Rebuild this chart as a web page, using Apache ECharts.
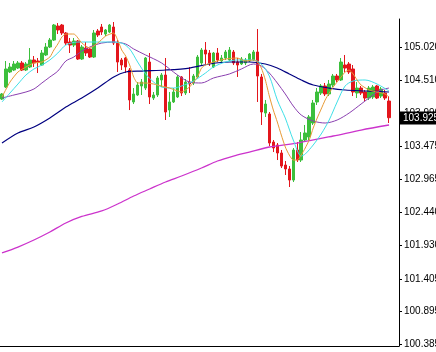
<!DOCTYPE html>
<html>
<head>
<meta charset="utf-8">
<script src="https://cdn.jsdelivr.net/npm/echarts@6/dist/echarts.min.js"></script>
<style>
  html, body { margin: 0; background: #fff; }
  #chart { width: 436px; height: 352px; }
</style>
</head>
<body>
<div id="chart"></div>
<script>
// bars: [open, close, low, high]
const candles = [
  [104.217,104.296,104.202,104.311],[104.405,104.687,104.389,104.812],[104.640,104.718,104.624,104.781],
  [104.671,104.765,104.655,104.812],[104.702,104.781,104.687,104.812],[104.781,104.671,104.655,104.812],
  [104.671,104.765,104.655,104.796],[104.718,104.828,104.702,105.015],[104.828,104.781,104.718,104.890],
  [104.812,104.796,104.624,104.859],[104.749,104.937,104.734,104.984],[104.906,105.031,104.890,105.093],
  [105.031,105.140,105.015,105.172],[105.140,105.375,105.125,105.391],[105.359,105.297,105.234,105.406],
  [105.375,105.250,105.219,105.391],[105.250,105.093,105.062,105.265],[105.109,105.062,104.937,105.172],
  [105.062,105.125,105.031,105.172],[105.125,104.843,104.828,105.140],[104.843,105.031,104.828,105.062],
  [105.015,104.937,104.890,105.109],[105.000,104.874,104.859,105.015],[104.874,105.250,104.859,105.297],
  [105.281,105.219,105.187,105.312],[105.344,105.265,105.219,105.391],[105.234,105.297,105.203,105.312],
  [105.265,105.375,105.250,105.391],[105.344,105.093,105.062,105.422],[105.093,104.796,104.640,105.140],
  [104.828,104.749,104.671,104.859],[104.859,104.718,104.624,104.874],[104.671,104.202,104.045,104.702],
  [104.171,104.296,104.139,104.389],[104.280,104.436,104.264,104.483],[104.421,104.483,104.280,104.530],
  [104.389,104.859,104.358,104.874],[104.796,104.249,104.139,104.937],[104.233,104.280,104.202,104.327],
  [104.280,104.546,104.249,104.577],[104.515,104.593,104.405,104.624],[104.593,104.014,103.889,104.859],
  [104.045,104.171,103.936,104.327],[104.171,104.327,104.155,104.389],[104.249,104.562,104.233,104.593],
  [104.562,104.311,104.264,104.577],[104.311,104.483,104.280,104.530],[104.483,104.452,104.311,104.718],
  [104.468,104.577,104.436,104.609],[104.562,104.874,104.546,104.906],[104.781,104.984,104.749,105.015],
  [104.984,104.921,104.765,105.109],[104.937,104.781,104.734,104.984],[104.718,104.937,104.702,104.953],
  [104.937,104.828,104.796,105.015],[104.812,104.859,104.796,104.906],[104.859,104.953,104.828,104.984],
  [104.828,104.984,104.812,105.031],[104.953,104.781,104.749,104.984],[104.796,104.749,104.562,104.859],
  [104.765,104.843,104.749,104.874],[104.781,104.828,104.749,104.859],[104.812,104.921,104.796,104.937],
  [104.828,104.953,104.812,104.984],[104.953,104.577,104.171,105.312],[104.562,104.014,103.811,104.609],
  [103.998,104.139,103.936,104.202],[103.983,103.529,103.482,104.014],[103.545,103.451,103.388,103.576],
  [103.498,103.373,103.263,103.529],[103.373,103.169,103.138,103.420],[103.185,103.123,103.029,103.248],
  [103.123,102.950,102.841,103.169],[102.950,103.420,102.919,103.451],[103.420,103.263,103.232,103.545],
  [103.263,103.576,103.232,103.701],[103.576,103.686,103.545,103.811],[103.623,103.936,103.576,103.967],
  [103.842,104.155,103.811,104.202],[104.171,104.327,104.124,104.389],[104.311,104.421,104.280,104.452],
  [104.421,104.296,104.264,104.468],[104.296,104.452,104.264,104.515],[104.436,104.577,104.405,104.609],
  [104.577,104.515,104.483,104.609],[104.515,104.796,104.499,104.859],[104.749,104.702,104.640,104.906],
  [104.765,104.640,104.609,104.796],[104.687,104.327,104.264,104.749],[104.311,104.389,104.233,104.483],
  [104.389,104.311,104.280,104.421],[104.327,104.233,104.186,104.358],[104.233,104.389,104.202,104.421],
  [104.249,104.405,104.217,104.436],[104.421,104.233,104.217,104.436],[104.264,104.374,104.233,104.405],
  [104.311,104.233,104.202,104.358],[104.186,103.925,103.842,104.264]
];

// moving averages: [bar index, price]
const maOrange = [[0,104.249],[2,104.483],[4,104.640],[6,104.718],[8,104.781],[10,104.796],[12,104.874],
  [13,104.984],[14,105.078],[15,105.187],[16,105.234],[18,105.234],[20,105.093],[22,105.015],[24,105.093],
  [26,105.203],[28,105.250],[29,105.140],[30,104.984],[31,104.890],[32,104.749],[33,104.562],[34,104.468],
  [36,104.468],[38,104.452],[40,104.421],[42,104.389],[44,104.343],[45,104.327],[47,104.405],[48,104.483],
  [49,104.562],[50,104.702],[51,104.749],[53,104.796],[56,104.843],[59,104.859],[61,104.812],[63,104.828],
  [64,104.796],[65,104.702],[66,104.515],[67,104.264],[68,104.045],[69,103.858],[70,103.654],[71,103.467],
  [72,103.341],[73,103.263],[74,103.263],[75,103.341],[76,103.451],[77,103.576],[78,103.764],[79,103.920],
  [80,104.061],[81,104.202],[82,104.311],[83,104.405],[85,104.562],[86,104.640],[87,104.671],[88,104.609],
  [89,104.515],[90,104.436],[92,104.358],[94,104.327],[96,104.296],[97,104.249]];
const maCyan = [[0,104.171],[2,104.311],[4,104.452],[6,104.593],[8,104.687],[10,104.749],[12,104.828],
  [14,104.937],[16,105.062],[19,105.109],[23,105.109],[27,105.109],[30,105.093],[32,105.000],[34,104.796],
  [36,104.609],[38,104.483],[40,104.405],[43,104.389],[45,104.421],[48,104.499],[51,104.624],[53,104.718],
  [56,104.796],[59,104.828],[63,104.828],[65,104.765],[67,104.577],[69,104.202],[71,103.920],[73,103.576],
  [75,103.326],[76,103.357],[78,103.498],[80,103.670],[82,103.889],[84,104.171],[86,104.421],[88,104.499],
  [91,104.515],[94,104.452],[97,104.343]];
const maPurple = [[0,104.233],[3,104.280],[6,104.327],[8,104.374],[10,104.468],[12,104.562],[14,104.655],
  [16,104.812],[18,104.874],[20,104.968],[22,105.031],[25,105.093],[28,105.109],[31,105.078],[33,105.000],
  [36,104.906],[40,104.781],[44,104.593],[47,104.483],[50,104.468],[53,104.546],[57,104.609],[60,104.687],
  [63,104.765],[65,104.734],[67,104.624],[69,104.468],[71,104.296],[73,104.108],[75,103.967],[78,103.873],
  [81,103.842],[84,103.889],[87,103.998],[90,104.139],[93,104.280],[95,104.358],[97,104.389]];
const maNavy = [[0,103.529],[4,103.686],[8,103.779],[12,103.920],[16,104.092],[20,104.233],[24,104.389],
  [28,104.562],[31,104.640],[35,104.655],[41,104.671],[47,104.702],[52,104.765],[57,104.796],[62,104.796],
  [66,104.765],[69,104.702],[72,104.609],[75,104.515],[78,104.436],[82,104.389],[86,104.358],[91,104.343],
  [97,104.327]];
const maMagenta = [[0,101.809],[4,101.902],[8,102.012],[12,102.137],[16,102.278],[20,102.380],[25,102.466],
  [29,102.575],[33,102.700],[37,102.810],[41,102.919],[45,103.013],[50,103.138],[54,103.248],[58,103.326],
  [62,103.388],[67,103.467],[74,103.529],[83,103.639],[90,103.732],[97,103.811]];

const priceTicks = [100.385, 100.895, 101.405, 101.930, 102.440, 102.965, 103.475, 103.990, 104.510, 105.020];
const lastPrice = 103.925;
// two empty slots after the last bar (chart shift)
const bars = Array.from({ length: candles.length + 2 }, (_, i) => String(i + 1));

const font = 'Liberation Sans';

const maLine = (data, color, width, smooth) => ({
  type: 'line',
  data,
  symbol: 'none',
  connectNulls: true,
  smooth,
  silent: true,
  lineStyle: { color, width },
});

const chart = echarts.init(document.getElementById('chart'));
chart.setOption({
  animation: false,
  backgroundColor: '#fff',
  grid: { left: 0, right: 37, top: 19, bottom: 6, containLabel: false, outerBoundsMode: 'none' },
  xAxis: {
    type: 'category',
    data: bars,
    boundaryGap: true,
    axisLine: { show: true, onZero: false, lineStyle: { color: '#000', width: 1 } },
    axisTick: { show: false },
    axisLabel: { show: false },
    splitLine: { show: false },
  },
  yAxis: {
    type: 'value',
    position: 'right',
    min: 100.354,
    max: 105.469,
    axisLine: { show: true, lineStyle: { color: '#000', width: 1 } },
    axisTick: { show: true, length: 3, customValues: priceTicks, lineStyle: { color: '#000' } },
    axisLabel: {
      customValues: priceTicks,
      formatter: v => v.toFixed(3),
      color: '#000',
      fontFamily: font,
      fontSize: 10,
      margin: 5,
    },
    splitLine: { show: false },
  },
  series: [
    {
      type: 'candlestick',
      data: candles,
      barWidth: 3,
      itemStyle: {
        color: '#3cbf3c',
        color0: '#e3161c',
        borderColor: '#3cbf3c',
        borderColor0: '#e3161c',
        borderWidth: 1,
      },
      markLine: {
        silent: true,
        symbol: ['none', 'none'],
        lineStyle: { color: 'rgba(0,0,0,0)' },
        label: {
          position: 'end',
          distance: 1,
          formatter: lastPrice.toFixed(3),
          backgroundColor: '#000',
          color: '#fff',
          fontFamily: font,
          fontSize: 10,
          padding: [2, 4, 1, 3],
        },
        data: [{ yAxis: lastPrice }],
      },
    },
    maLine(maMagenta, '#cc33cc', 1.3, 0.3),
    maLine(maNavy, '#000080', 1.2, 0.3),
    maLine(maPurple, '#8a3fb0', 1, 0.3),
    maLine(maCyan, '#3fe0e8', 1, 0.3),
    maLine(maOrange, '#e89a35', 1, 0.2),
  ],
});
</script>
</body>
</html>
